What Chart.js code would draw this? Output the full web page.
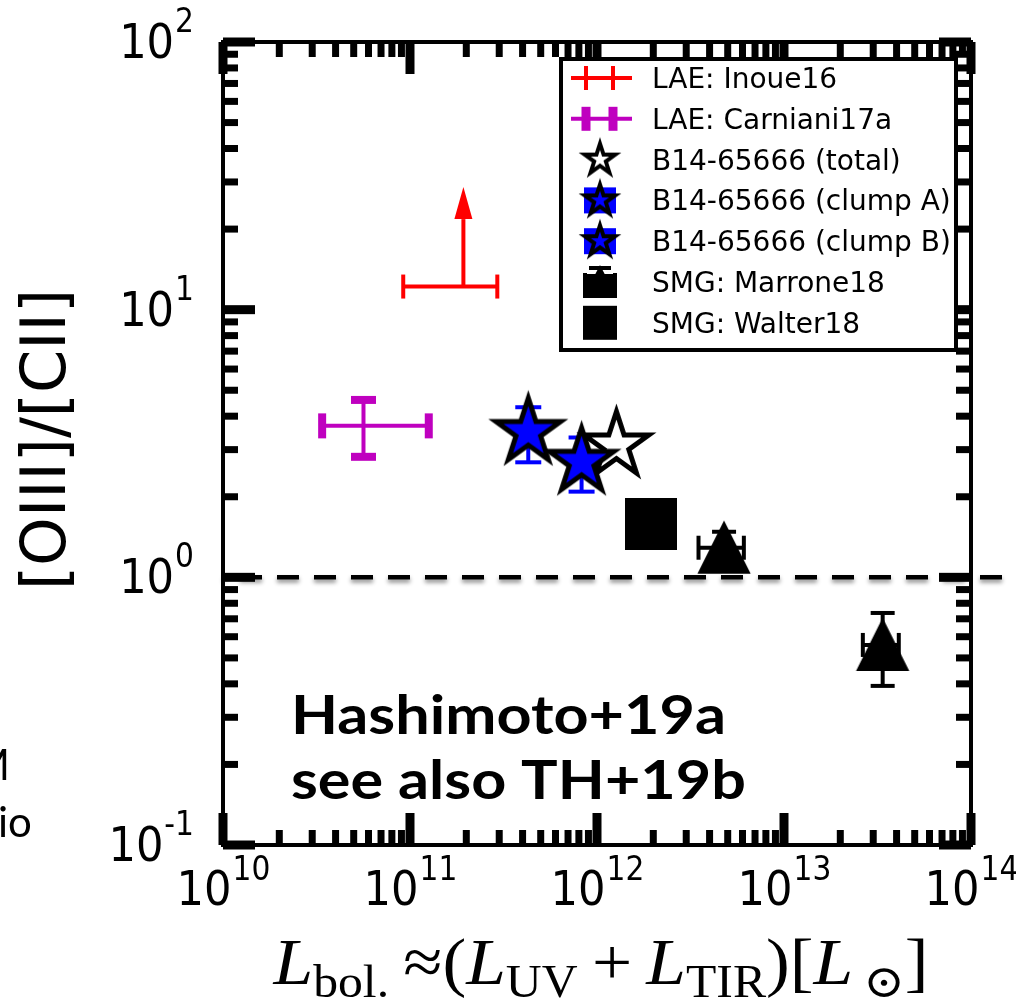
<!DOCTYPE html>
<html>
<head>
<meta charset="utf-8">
<script src="https://cdn.jsdelivr.net/npm/chart.js"></script>
<style>
html, body { margin: 0; padding: 0; background: #fff; }
#wrap { position: relative; width: 1016px; height: 1004px; overflow: hidden; }
</style>
</head>
<body>
<div id="wrap"><canvas id="chart" width="1016" height="1004"></canvas></div>
<script>
// values: x = L_bol [Lsun], y = [OIII]/[CII]
const inoueX = [1.93e11];
const inoueY = [12.2];
const inoueXLo = [9.2e10];
const inoueXHi = [2.93e11];
const inoueYLimit = [28.7]; // tip of the lower-limit arrow

const carnianiX = [5.64e10];
const carnianiY = [3.68];
const carnianiXLo = [3.39e10];
const carnianiXHi = [1.26e11];
const carnianiYLo = [2.82];
const carnianiYHi = [4.6];

const totalX = [1.27e12];
const totalY = [3.11];

const clumpAX = [4.29e11];
const clumpAY = [3.49];
const clumpAYLo = [2.69];
const clumpAYHi = [4.32];

const clumpBX = [8.27e11];
const clumpBY = [2.70];
const clumpBYLo = [2.09];
const clumpBYHi = [3.33];

const marroneX = [4.78e12, 3.37e13];
const marroneY = [1.29, 0.559];
const marroneXLo = [3.49e12, 2.64e13];
const marroneXHi = [6.1e12, 4.11e13];
const marroneYLo = [1.12, 0.393];
const marroneYHi = [1.48, 0.736];

const walterX = [1.94e12];
const walterY = [1.585];

const refLineY = 1;

const xTicks = [1e10, 1e11, 1e12, 1e13, 1e14];
const xTickExp = ['10', '11', '12', '13', '14'];
const yTicks = [1e-1, 1e0, 1e1, 1e2];
const yTickExp = ['-1', '0', '1', '2'];

const legendLabels = [
    'LAE: Inoue16',
    'LAE: Carniani17a',
    'B14-65666 (total)',
    'B14-65666 (clump A)',
    'B14-65666 (clump B)',
    'SMG: Marrone18',
    'SMG: Walter18'
];

const RED = '#ff0000', MAG = '#bf00bf', BLUE = '#0000ff', BLACK = '#000000';

// marker images
function starCanvas(R, fill, lw) {
    const s = Math.ceil(2 * (R + lw * 2.5));
    const c = document.createElement('canvas');
    c.width = s; c.height = s;
    const g = c.getContext('2d');
    g.translate(s / 2, s / 2);
    g.beginPath();
    for (let i = 0; i < 10; i++) {
        const r = i % 2 ? R * 0.381966 : R;
        const a = -Math.PI / 2 + i * Math.PI / 5;
        g.lineTo(r * Math.cos(a), r * Math.sin(a));
    }
    g.closePath();
    g.fillStyle = fill; g.fill();
    g.lineJoin = 'miter'; g.miterLimit = 10;
    g.lineWidth = lw; g.strokeStyle = BLACK; g.stroke();
    return c;
}

function triCanvas(h, lw) {
    const s = Math.ceil(2 * h + lw * 4);
    const c = document.createElement('canvas');
    c.width = s; c.height = s;
    const g = c.getContext('2d');
    g.translate(s / 2, s / 2);
    g.beginPath();
    g.moveTo(0, -h); g.lineTo(-h, h); g.lineTo(h, h); g.closePath();
    g.fillStyle = BLACK; g.fill();
    g.lineWidth = lw; g.strokeStyle = BLACK; g.stroke();
    return c;
}

function squareCanvas(h) {
    const c = document.createElement('canvas');
    c.width = 2 * h; c.height = 2 * h;
    const g = c.getContext('2d');
    g.fillStyle = BLACK; g.fillRect(0, 0, 2 * h, 2 * h);
    return c;
}

function line(g, x0, y0, x1, y1, w) {
    g.lineWidth = w;
    g.beginPath(); g.moveTo(x0, y0); g.lineTo(x1, y1); g.stroke();
}

const errSpecs = [
    { color: RED, lw: 4, cap: 24, capW: 4, x: inoueX, y: inoueY, xlo: inoueXLo, xhi: inoueXHi, lim: inoueYLimit },
    { color: MAG, lw: 4, cap: 25, capW: 8, x: carnianiX, y: carnianiY, xlo: carnianiXLo, xhi: carnianiXHi, ylo: carnianiYLo, yhi: carnianiYHi },
    { color: BLUE, lw: 4, cap: 26, capW: 4, x: clumpAX, y: clumpAY, ylo: clumpAYLo, yhi: clumpAYHi },
    { color: BLUE, lw: 4, cap: 26, capW: 4, x: clumpBX, y: clumpBY, ylo: clumpBYLo, yhi: clumpBYHi },
    { color: BLACK, lw: 4, cap: 24, capW: 4, x: marroneX, y: marroneY, xlo: marroneXLo, xhi: marroneXHi, ylo: marroneYLo, yhi: marroneYHi }
];

function drawErr(g, xs, ys, s) {
    g.save();
    g.strokeStyle = s.color; g.fillStyle = s.color; g.lineCap = 'butt';
    s.x.forEach((xv, i) => {
        const px = xs.getPixelForValue(xv), py = ys.getPixelForValue(s.y[i]);
        if (s.xlo) {
            const x0 = xs.getPixelForValue(s.xlo[i]), x1 = xs.getPixelForValue(s.xhi[i]);
            line(g, x0, py, x1, py, s.lw);
            line(g, x0, py - s.cap / 2, x0, py + s.cap / 2, s.capW);
            line(g, x1, py - s.cap / 2, x1, py + s.cap / 2, s.capW);
        }
        if (s.ylo) {
            const y0 = ys.getPixelForValue(s.ylo[i]), y1 = ys.getPixelForValue(s.yhi[i]);
            line(g, px, y0, px, y1, s.lw);
            line(g, px - s.cap / 2, y0, px + s.cap / 2, y0, s.capW);
            line(g, px - s.cap / 2, y1, px + s.cap / 2, y1, s.capW);
        }
        if (s.lim) {
            const tip = ys.getPixelForValue(s.lim[i]);
            const base = tip + 32;
            line(g, px, py, px, base, s.lw);
            g.beginPath();
            g.moveTo(px, tip); g.lineTo(px - 9, base); g.lineTo(px + 9, base);
            g.closePath(); g.fill();
        }
    });
    g.restore();
}

const minorOf = majors => {
    const out = [];
    for (let i = 0; i < majors.length - 1; i++)
        for (let k = 2; k <= 9; k++) out.push(k * majors[i]);
    return out;
};

const TICK_FONT = '"DejaVu Sans", sans-serif';
function powLabel(g, exp, x, yDigits, ySup, align) {
    const sx = 0.9;
    g.font = '48px ' + TICK_FONT;
    const w1 = g.measureText('10').width * sx;
    g.font = '33px ' + TICK_FONT;
    const w2 = g.measureText(exp).width * sx;
    const left = align === 'center' ? x - (w1 + w2) / 2 : x - (w1 + w2);
    g.save();
    g.translate(left, 0);
    g.scale(sx, 1);
    g.fillStyle = BLACK; g.textAlign = 'left'; g.textBaseline = 'alphabetic';
    g.font = '48px ' + TICK_FONT;
    g.fillText('10', 0, yDigits);
    g.font = '33px ' + TICK_FONT;
    g.fillText(exp, w1 / sx + 1, ySup);
    g.restore();
}

const xTitleParts = [
    ['L', 'it'], ['bol.', 'sub'], ['\u2009\u2248', 'rm'], ['(', 'rm'], ['L', 'it'], ['UV', 'sub'],
    ['\u2009+\u2009', 'rm'], ['L', 'it'], ['TIR', 'sub'], [')[', 'rm'], ['L', 'it'], ['\u2009\u2299', 'sub'], [']', 'rm']
];
const SERIF = '"Liberation Serif", "DejaVu Serif", serif';
const partFont = { it: 'italic 66px ' + SERIF, rm: '66px ' + SERIF, sub: '46px ' + SERIF };

function drawXTitle(g, cx, baseline, width) {
    let total = 0;
    xTitleParts.forEach(([t, k]) => { g.font = partFont[k]; total += g.measureText(t).width; });
    const sx = width / total;
    g.save();
    g.translate(cx - width / 2, 0);
    g.scale(sx, 1);
    g.fillStyle = BLACK; g.textAlign = 'left'; g.textBaseline = 'alphabetic';
    let x = 0;
    xTitleParts.forEach(([t, k]) => {
        g.font = partFont[k];
        g.fillText(t, x, k === 'sub' ? baseline + 13 : baseline);
        x += g.measureText(t).width;
    });
    g.restore();
}

const legendStar = starCanvas(16, '#ffffff', 4);
const legendBlueStar = starCanvas(16, BLUE, 4);

function legendHandle(g, i, cx, cy) {
    g.save();
    g.lineCap = 'butt';
    if (i === 0 || i === 1) {
        g.strokeStyle = i === 0 ? RED : MAG;
        line(g, cx - 29, cy, cx + 32, cy, 4);
        const cw = i === 0 ? 4 : 9;
        line(g, cx - 14, cy - 12, cx - 14, cy + 12, cw);
        line(g, cx + 13, cy - 12, cx + 13, cy + 12, cw);
    } else if (i === 2) {
        g.drawImage(legendStar, cx - legendStar.width / 2, cy - legendStar.height / 2);
    } else if (i === 3 || i === 4) {
        g.fillStyle = BLUE; g.fillRect(cx - 16, cy - 13, 32, 26);
        g.drawImage(legendBlueStar, cx - legendBlueStar.width / 2, cy - legendBlueStar.height / 2);
    } else if (i === 5) {
        g.strokeStyle = BLACK; g.fillStyle = BLACK;
        line(g, cx - 15, cy, cx + 15, cy, 4);
        line(g, cx - 15, cy - 9, cx - 15, cy + 9, 4);
        line(g, cx + 15, cy - 9, cx + 15, cy + 9, 4);
        line(g, cx - 11, cy - 14, cx + 11, cy - 14, 4);
        g.beginPath();
        g.moveTo(cx, cy - 17); g.lineTo(cx - 17, cy + 16); g.lineTo(cx + 17, cy + 16);
        g.closePath(); g.fill();
        g.fillRect(cx - 17, cy - 8, 34, 24);
    } else {
        g.fillStyle = BLACK; g.fillRect(cx - 17, cy - 17, 34, 34);
    }
    g.restore();
}

const figurePlugin = {
    id: 'figure',
    beforeDatasetsDraw(chart) {
        const g = chart.ctx, xs = chart.scales.x, ys = chart.scales.y, a = chart.chartArea;
        // dashed y = 1 line, runs past the right spine
        g.save();
        g.strokeStyle = BLACK; g.lineWidth = 4.5;
        g.setLineDash([22, 15]); g.lineDashOffset = 20;
        g.shadowColor = 'rgba(0,0,0,0.45)'; g.shadowBlur = 4; g.shadowOffsetY = 3;
        const yl = ys.getPixelForValue(refLineY);
        g.beginPath(); g.moveTo(a.left, yl); g.lineTo(1005, yl); g.stroke();
        g.restore();

        errSpecs.forEach(s => drawErr(g, xs, ys, s));
    },
    afterDatasetsDraw(chart) {
        const g = chart.ctx, xs = chart.scales.x, ys = chart.scales.y, a = chart.chartArea;
        g.save();
        g.strokeStyle = BLACK; g.fillStyle = BLACK; g.lineCap = 'butt';

        // inward ticks on all four sides
        const MAJ = 32, MAJW = 9, MIN = 15, MINW = 7;
        const xt = xTicks.map(v => [v, MAJ, MAJW]).concat(minorOf(xTicks).map(v => [v, MIN, MINW]));
        xt.forEach(([v, len, w]) => {
            const px = xs.getPixelForValue(v);
            line(g, px, a.bottom, px, a.bottom - len, w);
            line(g, px, a.top, px, a.top + len, w);
        });
        const yt = yTicks.map(v => [v, MAJ, MAJW]).concat(minorOf(yTicks).map(v => [v, MIN, MINW]));
        yt.forEach(([v, len, w]) => {
            const py = ys.getPixelForValue(v);
            line(g, a.left, py, a.left + len, py, w);
            line(g, a.right, py, a.right - len, py, w);
        });

        // frame
        g.lineWidth = 4;
        g.strokeRect(a.left, a.top, a.right - a.left, a.bottom - a.top);

        // tick labels
        xTicks.forEach((v, i) => {
            const px = xs.getPixelForValue(v);
            powLabel(g, xTickExp[i], px, a.bottom + 60, a.bottom + 35, 'center');
        });
        yTicks.forEach((v, i) => {
            const py = ys.getPixelForValue(v);
            powLabel(g, yTickExp[i], a.left - 30, py + 16, py - 10, 'right');
        });

        // axis titles
        g.save();
        g.translate(65, (a.top + a.bottom) / 2 - 4);
        g.rotate(-Math.PI / 2);
        g.font = '62px ' + TICK_FONT;
        g.textAlign = 'center'; g.textBaseline = 'alphabetic';
        g.fillText('[OIII]/[CII]', 0, 0);
        g.restore();
        drawXTitle(g, (a.left + a.right) / 2 + 4, 984, 655);

        // annotation
        g.font = 'bold 54px Lato, "Open Sans", sans-serif';
        g.textAlign = 'left'; g.textBaseline = 'alphabetic';
        const w1 = g.measureText('Hashimoto+19a').width;
        const sx = 435 / w1;
        g.save();
        g.translate(291, 0); g.scale(sx, 1);
        g.fillText('Hashimoto+19a', 0, 734);
        g.fillText('see also TH+19b', 0, 799);
        g.restore();

        // leftover slide text cut by the left edge
        g.font = '42px Lato, "Open Sans", sans-serif';
        const mw = g.measureText('M').width;
        g.fillText('M', 10 - mw, 780);
        g.fillText('io', -2, 837);

        // legend
        const L = { left: 561, top: 59, right: 956, bottom: 350 };
        g.fillStyle = '#ffffff';
        g.fillRect(L.left, L.top, L.right - L.left, L.bottom - L.top);
        g.lineWidth = 4; g.strokeStyle = BLACK;
        g.strokeRect(L.left, L.top, L.right - L.left, L.bottom - L.top);
        g.fillStyle = BLACK;
        g.font = '28px "DejaVu Sans", sans-serif';
        legendLabels.forEach((lab, i) => {
            const cy = 78 + i * 40.8;
            legendHandle(g, i, 600, cy);
            g.fillStyle = BLACK;
            g.fillText(lab, 652, cy + 10);
        });
        g.restore();
    }
};

const toPts = (xs, ys) => xs.map((x, i) => ({ x: x, y: ys[i] }));

function build() {
    const starWhite = starCanvas(34, '#ffffff', 5);
    const starBlue = starCanvas(34, BLUE, 5);
    const tri = triCanvas(25, 2);
    const sq = squareCanvas(26);

    new Chart(document.getElementById('chart'), {
        type: 'scatter',
        data: {
            datasets: [
                { label: legendLabels[0], data: toPts(inoueX, inoueY), pointRadius: 0, order: 7 },
                { label: legendLabels[1], data: toPts(carnianiX, carnianiY), pointRadius: 0, order: 6 },
                { label: legendLabels[2], data: toPts(totalX, totalY), pointStyle: starWhite, pointRadius: 20, order: 5 },
                { label: legendLabels[3], data: toPts(clumpAX, clumpAY), pointStyle: starBlue, pointRadius: 20, order: 1 },
                { label: legendLabels[4], data: toPts(clumpBX, clumpBY), pointStyle: starBlue, pointRadius: 20, order: 2 },
                { label: legendLabels[5], data: toPts(marroneX, marroneY), pointStyle: tri, pointRadius: 20, order: 3 },
                { label: legendLabels[6], data: toPts(walterX, walterY), pointStyle: sq, pointRadius: 20, order: 4 }
            ]
        },
        options: {
            responsive: false,
            animation: false,
            events: [],
            layout: { padding: { left: 223, right: 45, top: 42, bottom: 159 } },
            plugins: { legend: { display: false }, tooltip: { enabled: false } },
            scales: {
                x: { type: 'logarithmic', min: 1e10, max: 1e14, display: false },
                y: { type: 'logarithmic', min: 0.1, max: 100, display: false }
            }
        },
        plugins: [figurePlugin]
    });
}

const fontLoads = [
    'bold 54px Lato', '42px Lato', '48px "DejaVu Sans"',
    'italic 66px "Liberation Serif"', '66px "Liberation Serif"'
].map(f => document.fonts.load(f).catch(() => null));
Promise.all(fontLoads).then(build, build);
</script>
</body>
</html>
